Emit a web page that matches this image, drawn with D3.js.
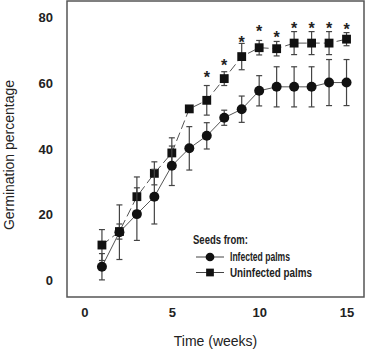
<!DOCTYPE html>
<html>
<head>
<meta charset="utf-8">
<script src="https://cdn.jsdelivr.net/npm/d3@7"></script>
<style>
  body { margin: 0; background: #fff; }
  text { font-family: Arial, "Liberation Sans", sans-serif; fill: #222; }
</style>
</head>
<body>
<div id="chart"></div>
<script>

// Data
const weeks = [1, 2, 3, 4, 5, 6, 7, 8, 9, 10, 11, 12, 13, 14, 15];

const infected     = [4.2, 14.7, 20.2, 25.5, 34.9, 40.2, 44.0, 49.5, 52.1, 57.7, 58.9, 58.9, 58.9, 60.2, 60.2];
const infectedErr  = [4.0, 8.3, 8.0, 8.3, 6.0, 6.6, 4.0, 2.3, 4.0, 4.6, 6.1, 6.1, 6.1, 7.0, 7.0];

const uninfected    = [10.8, 14.9, 25.5, 32.6, 38.8, 52.2, 54.8, 61.4, 68.1, 70.8, 70.5, 72.2, 72.2, 72.2, 73.4];
const uninfectedErr = [4.7, 2.3, 6.0, 3.5, 4.6, 0, 4.5, 2.1, 4.0, 2.2, 2.2, 3.5, 3.5, 3.5, 2.0];

// significance stars (week, height)
const starWeeks  = [7, 8, 9, 10, 11, 12, 13, 14, 15];
const starLevels = [62.4, 66.3, 73.0, 76.4, 74.8, 77.4, 77.4, 77.4, 77.0];

const xTicks = [0, 5, 10, 15];
const yTicks = [0, 20, 40, 60, 80];

const legendLabels = ["Infected palms", "Uninfected palms"];
const legendWidths = [60, 82];

const width = 365, height = 350;
const margin = {top: 1, right: 1, bottom: 53, left: 67};

const svg = d3.select("#chart")
  .append("svg")
  .attr("width", width)
  .attr("height", height);

// Scales
const xScale = d3.scaleLinear()
  .domain([-1, 16])
  .range([margin.left, width - margin.right]);

const yScale = d3.scaleLinear()
  .domain([-5, 85])
  .range([height - margin.bottom, margin.top]);

// Frame
svg.append("rect")
  .attr("x", margin.left)
  .attr("y", margin.top)
  .attr("width", width - margin.left - margin.right)
  .attr("height", height - margin.top - margin.bottom)
  .attr("fill", "none")
  .attr("stroke", "#555")
  .attr("stroke-width", 1.5);

// Axes (labels only, no tick marks)
const yAxis = svg.append("g")
  .attr("transform", `translate(${margin.left},0)`)
  .call(d3.axisLeft(yScale).tickValues(yTicks).tickSize(0).tickPadding(14));
yAxis.select(".domain").remove();
yAxis.selectAll("text")
  .attr("font-size", "13px")
  .attr("font-weight", "bold")
  .attr("font-family", "Arial, 'Liberation Sans', sans-serif")
  .attr("fill", "#222");

const xAxis = svg.append("g")
  .attr("transform", `translate(0,${height - margin.bottom})`)
  .call(d3.axisBottom(xScale).tickValues(xTicks).tickSize(0).tickPadding(11));
xAxis.select(".domain").remove();
xAxis.selectAll("text")
  .attr("font-size", "13px")
  .attr("font-weight", "bold")
  .attr("font-family", "Arial, 'Liberation Sans', sans-serif")
  .attr("fill", "#222");

// Axis titles
svg.append("text")
  .attr("x", xScale(7.5))
  .attr("y", 346)
  .attr("text-anchor", "middle")
  .attr("font-size", "14px")
  .text("Time (weeks)");

svg.append("text")
  .attr("transform", "rotate(-90)")
  .attr("x", -155)
  .attr("y", 14)
  .attr("text-anchor", "middle")
  .attr("font-size", "14px")
  .text("Germination percentage");

// Helper to draw one series
function drawSeries(values, errs, dash, shape) {
  const pts = weeks.map((w, i) => ({w: w, v: values[i], e: errs[i]}));

  const line = d3.line()
    .x(d => xScale(d.w))
    .y(d => yScale(d.v));

  svg.append("path")
    .datum(pts)
    .attr("d", line)
    .attr("fill", "none")
    .attr("stroke", "#555")
    .attr("stroke-width", 1)
    .attr("stroke-dasharray", dash);

  // error bars
  const eb = svg.append("g")
    .attr("stroke", "#444")
    .attr("stroke-width", 1.2);

  const withErr = pts.filter(d => d.e > 0);

  eb.selectAll(".stem")
    .data(withErr)
    .enter()
    .append("line")
      .attr("x1", d => xScale(d.w))
      .attr("x2", d => xScale(d.w))
      .attr("y1", d => yScale(d.v - d.e))
      .attr("y2", d => yScale(d.v + d.e));

  eb.selectAll(".capTop")
    .data(withErr)
    .enter()
    .append("line")
      .attr("x1", d => xScale(d.w) - 3)
      .attr("x2", d => xScale(d.w) + 3)
      .attr("y1", d => yScale(d.v + d.e))
      .attr("y2", d => yScale(d.v + d.e));

  eb.selectAll(".capBot")
    .data(withErr)
    .enter()
    .append("line")
      .attr("x1", d => xScale(d.w) - 3)
      .attr("x2", d => xScale(d.w) + 3)
      .attr("y1", d => yScale(d.v - d.e))
      .attr("y2", d => yScale(d.v - d.e));

  // markers
  const sym = d3.symbol().type(shape).size(78);
  svg.selectAll(null)
    .data(pts)
    .enter()
    .append("path")
      .attr("d", sym)
      .attr("transform", d => `translate(${xScale(d.w)},${yScale(d.v)})`)
      .attr("fill", "#111");
}

drawSeries(uninfected, uninfectedErr, "9,4", d3.symbolSquare);
drawSeries(infected, infectedErr, null, d3.symbolCircle);

// Stars
svg.selectAll(".star")
  .data(starWeeks.map((w, i) => ({w: w, v: starLevels[i]})))
  .enter()
  .append("text")
    .attr("class", "star")
    .attr("x", d => xScale(d.w))
    .attr("y", d => yScale(d.v) + 8)
    .attr("text-anchor", "middle")
    .attr("font-size", "16px")
    .attr("font-weight", "bold")
    .text("*");

// Legend
const legend = svg.append("g");

legend.append("text")
  .attr("x", 193)
  .attr("y", 244)
  .attr("font-size", "12px")
  .attr("font-weight", "bold")
  .attr("textLength", 55)
  .attr("lengthAdjust", "spacingAndGlyphs")
  .text("Seeds from:");

const legendShapes = [d3.symbolCircle, d3.symbolSquare];

legendLabels.forEach((lab, i) => {
  const ly = 257 + i * 15.5;
  legend.append("line")
    .attr("x1", 196).attr("x2", 224)
    .attr("y1", ly).attr("y2", ly)
    .attr("stroke", "#444")
    .attr("stroke-width", 1);
  legend.append("path")
    .attr("d", d3.symbol().type(legendShapes[i]).size(60))
    .attr("transform", `translate(210,${ly})`)
    .attr("fill", "#111");
  legend.append("text")
    .attr("x", 230)
    .attr("y", ly + 4)
    .attr("font-size", "12px")
    .attr("font-weight", "bold")
    .attr("textLength", legendWidths[i])
    .attr("lengthAdjust", "spacingAndGlyphs")
    .text(lab);
});

</script>
</body>
</html>
